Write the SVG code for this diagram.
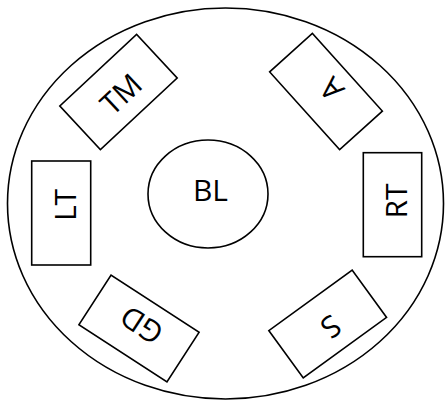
<svg xmlns="http://www.w3.org/2000/svg" width="445" height="400" viewBox="0 0 445 400">
<style>
.s{fill:none;stroke:#000;stroke-width:1.6}
.t{font-family:"Open Sans","Noto Sans",sans-serif;font-size:30px;fill:#000;text-anchor:middle}
</style>
<rect width="445" height="400" fill="#fff"/>
<g id="outer"><ellipse class="s" cx="225.5" cy="203.5" rx="218" ry="195.5"/></g>
<g id="BL"><ellipse class="s" cx="208" cy="194" rx="60" ry="54"/><text class="t" x="210.5" y="201">BL</text></g>
<g id="TM"><rect class="s" x="-52.5" y="-29.75" width="105" height="59.5" transform="translate(118.5 92) rotate(-43)"/><text class="t" x="0" y="10.7" transform="translate(121 94) rotate(-43)">TM</text></g>
<g id="A"><rect class="s" x="-52.3" y="-28.75" width="104.6" height="57.5" transform="translate(326 91.5) rotate(48)"/><text class="t" x="0" y="10.7" transform="translate(331.5 89) rotate(-132)">A</text></g>
<g id="RT"><rect class="s" x="363.3" y="152.7" width="58.4" height="104"/><text class="t" x="0" y="10.7" transform="translate(396.5 201) rotate(-90)">RT</text></g>
<g id="LT"><rect class="s" x="31.7" y="161" width="59" height="104"/><text class="t" x="0" y="10.7" transform="translate(65 205) rotate(-90)">LT</text></g>
<g id="GD"><rect class="s" x="-52.5" y="-29.5" width="105" height="59" transform="translate(139 328.5) rotate(33)"/><text class="t" x="0" y="10.7" transform="translate(141.7 325) rotate(213)">GD</text></g>
<g id="S"><rect class="s" x="-51.5" y="-29.25" width="103" height="58.5" transform="translate(327.7 324) rotate(-36)"/><text class="t" x="0" y="10.7" transform="translate(331 326.7) rotate(144)">S</text></g>
<g id="connectors"></g>
</svg>
